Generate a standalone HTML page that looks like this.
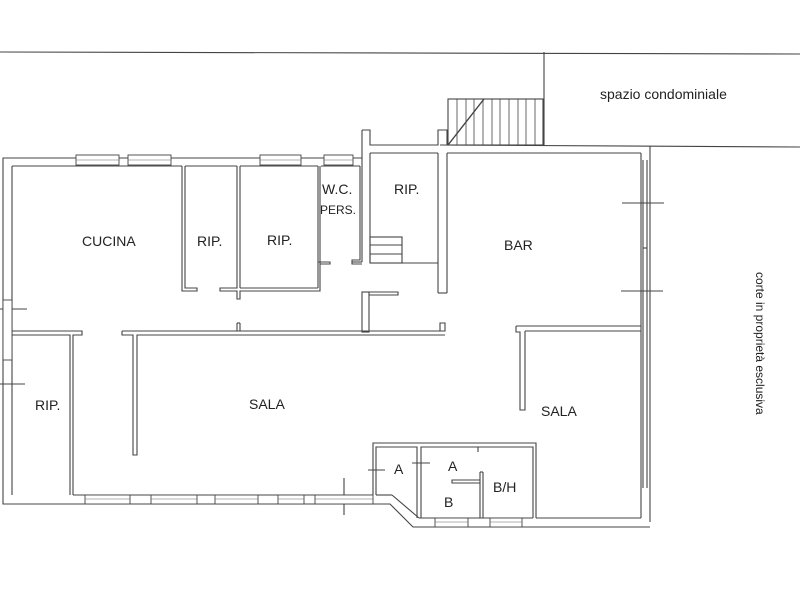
<!DOCTYPE html>
<html><head><meta charset="utf-8"><style>
html,body{margin:0;padding:0;background:#fff;width:800px;height:600px;overflow:hidden}
svg{display:block}
text{font-family:"Liberation Sans",sans-serif;fill:#222}
</style></head><body>
<svg width="800" height="600" viewBox="0 0 800 600" xmlns="http://www.w3.org/2000/svg">
<g fill="none" stroke="#444" stroke-width="1.1">
<!-- site lines -->
<line x1="0" y1="52" x2="800" y2="54"/>
<line x1="544" y1="52" x2="544" y2="146"/>
<line x1="440" y1="145" x2="800" y2="147"/>
<line x1="650" y1="146" x2="650" y2="522"/>
<!-- stair -->
<rect x="448" y="99" width="95" height="46"/>
<g stroke-width="0.8">
<line x1="457" y1="99" x2="457" y2="145"/><line x1="466" y1="99" x2="466" y2="145"/><line x1="474" y1="99" x2="474" y2="145"/><line x1="483" y1="99" x2="483" y2="145"/><line x1="492" y1="99" x2="492" y2="145"/><line x1="500" y1="99" x2="500" y2="145"/><line x1="509" y1="99" x2="509" y2="145"/><line x1="518" y1="99" x2="518" y2="145"/><line x1="526" y1="99" x2="526" y2="145"/><line x1="535" y1="99" x2="535" y2="145"/>
</g>
<line x1="448" y1="145" x2="484" y2="99" stroke-width="1.4"/>
<!-- main outer -->
<polyline points="362,130 370,130 370,145 438,145 438,130 447,130 447,145"/>
<polyline points="362,130 362,158 3,158 3,504 375,504 390,504 413,527 650,527"/>
<polyline points="12,166 12,495"/>
<line x1="12" y1="166" x2="182" y2="166"/>
<line x1="185" y1="166" x2="237" y2="166"/>
<line x1="240" y1="166" x2="318" y2="166"/>
<line x1="321" y1="166" x2="360" y2="166"/>
<!-- BAR -->
<line x1="447" y1="153" x2="641" y2="153"/>
<line x1="641" y1="153" x2="641" y2="518"/>
<line x1="643" y1="160" x2="643" y2="488"/><line x1="647" y1="160" x2="647" y2="488"/>
<line x1="643" y1="248" x2="647" y2="248"/>
<line x1="622" y1="203" x2="664" y2="203"/><line x1="621" y1="291" x2="663" y2="291"/>
<line x1="438" y1="153" x2="438" y2="293"/><line x1="447" y1="153" x2="447" y2="293"/><line x1="438" y1="293" x2="447" y2="293"/>
<!-- top RIP -->
<line x1="370" y1="153" x2="438" y2="153"/>
<line x1="362" y1="158" x2="362" y2="262"/><line x1="370" y1="153" x2="370" y2="262"/>
<line x1="370" y1="263" x2="438" y2="263"/>
<rect x="370" y="237" width="32" height="26"/><line x1="370" y1="245" x2="402" y2="245"/><line x1="370" y1="254" x2="402" y2="254"/>
<polyline points="352,262 362,262"/>
<!-- cucina/rip partitions -->
<polyline points="182,166 182,291 197,291 197,288 185,288 185,166"/>
<polyline points="237,166 237,288 220,288 220,291 237,291 237,299 240,299 240,291 320,291 320,166"/>
<line x1="240" y1="166" x2="240" y2="288"/><line x1="240" y1="288" x2="318" y2="288"/><line x1="318" y1="288" x2="318" y2="166"/>
<polyline points="318,262 330,262 330,264 320,264"/>
<polyline points="360,166 360,260 352,260 352,264 362,264"/>
<rect x="362" y="292" width="7" height="40"/>
<polyline points="369,292 398,292 398,295 369,295"/>
<!-- cucina/sala wall -->
<polyline points="12,331 82,331 82,335 73,335 73,495"/>
<polyline points="12,335 70,335 70,495"/>
<polyline points="122,331 445,331 445,323 440,323 440,331"/>
<polyline points="122,331 122,335 133,335 133,455 137,455 137,335 445,335"/>
<line x1="237" y1="331" x2="237" y2="323"/><line x1="240" y1="331" x2="240" y2="323"/><line x1="237" y1="323" x2="240" y2="323"/>
<!-- left windows -->
<line x1="3" y1="310" x2="12" y2="310"/><line x1="0" y1="309" x2="27" y2="309"/>
<line x1="3" y1="349" x2="12" y2="349"/><line x1="0" y1="384" x2="25" y2="384"/>
<!-- right sala wall -->
<polyline points="516,326 641,326"/><polyline points="525,331 641,331"/>
<polyline points="516,326 516,332 520,332 520,410 525,410 525,331"/>
<!-- bottom -->
<line x1="73" y1="495" x2="373" y2="495"/>
<line x1="376" y1="495" x2="392" y2="495"/><line x1="392" y1="495" x2="419" y2="518"/>
<line x1="419" y1="518" x2="533" y2="518"/><line x1="536" y1="518" x2="641" y2="518"/>
<!-- AB block -->
<polyline points="373,495 373,443 536,443 536,518"/>
<polyline points="376,495 376,447 417,447 417,518"/><polyline points="421,518 421,447 533,447 533,518"/>
<line x1="480" y1="518" x2="480" y2="472"/><line x1="483" y1="518" x2="483" y2="472"/><line x1="480" y1="472" x2="483" y2="472"/>
<polyline points="480,480 452,480 452,483 480,483"/>
<line x1="478" y1="447" x2="478" y2="452"/>
<line x1="368" y1="470" x2="385" y2="470"/><line x1="412" y1="463" x2="430" y2="463"/>
<line x1="344" y1="478" x2="344" y2="515"/>
</g>
<!-- windows -->
<g fill="#fff" stroke="#444" stroke-width="0.9">
<rect x="76" y="155" width="43" height="10"/><rect x="128" y="155" width="43" height="10"/>
<rect x="260" y="155" width="41" height="10"/><rect x="324" y="155" width="29" height="10"/>
<rect x="85" y="495" width="45" height="9"/><rect x="151" y="495" width="46" height="9"/><rect x="215" y="495" width="43" height="9"/><rect x="278" y="495" width="26" height="9"/><rect x="315" y="495" width="58" height="9"/>
<rect x="435" y="518" width="33" height="9"/><rect x="490" y="518" width="32" height="9"/>
<rect x="3" y="300" width="9" height="60"/>
</g>
<g stroke="#666" stroke-width="0.6">
<line x1="76" y1="160" x2="119" y2="160"/><line x1="128" y1="160" x2="171" y2="160"/><line x1="260" y1="160" x2="301" y2="160"/><line x1="324" y1="160" x2="353" y2="160"/>
<line x1="85" y1="499" x2="130" y2="499"/><line x1="151" y1="499" x2="197" y2="499"/><line x1="215" y1="499" x2="258" y2="499"/><line x1="278" y1="499" x2="304" y2="499"/><line x1="315" y1="499" x2="373" y2="499"/>
<line x1="435" y1="522" x2="468" y2="522"/><line x1="490" y1="522" x2="522" y2="522"/>
</g>
<g font-size="14">
<text x="600" y="99">spazio condominiale</text>
<text x="82" y="246">CUCINA</text>
<text x="197" y="246">RIP.</text>
<text x="267" y="245">RIP.</text>
<text x="322" y="194">W.C.</text>
<text x="320" y="214" font-size="12">PERS.</text>
<text x="394" y="194">RIP.</text>
<text x="504" y="250">BAR</text>
<text x="249" y="409">SALA</text>
<text x="541" y="416">SALA</text>
<text x="35" y="410">RIP.</text>
<text x="394" y="474">A</text>
<text x="448" y="471">A</text>
<text x="444" y="507">B</text>
<text x="493" y="492">B/H</text>
<text font-size="12" transform="translate(756,272) rotate(90)">corte in proprietà esclusiva</text>
</g>
</svg>
</body></html>
